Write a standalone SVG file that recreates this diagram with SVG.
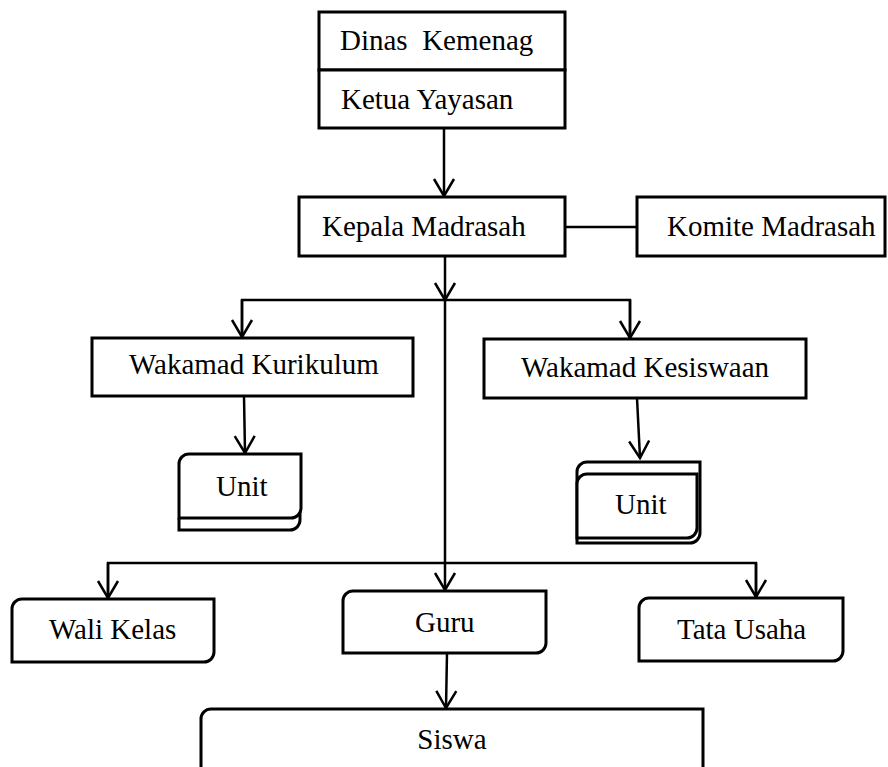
<svg xmlns="http://www.w3.org/2000/svg" width="888" height="767" viewBox="0 0 888 767">
<style>
.box{fill:#fff;stroke:#000;stroke-width:3}
.ln{fill:none;stroke:#000;stroke-width:2.5}
.t{font-family:"Liberation Serif","Times New Roman",serif;font-size:29px;fill:#000;white-space:pre}
.c{text-anchor:middle}
</style>
<defs>
<marker id="arr" markerUnits="userSpaceOnUse" viewBox="-20 -12 22 24" refX="0" refY="0" markerWidth="22" markerHeight="24" orient="auto">
<path d="M-17,-10 L0,0 L-17,10" fill="none" stroke="#000" stroke-width="2.5"/>
</marker>
</defs>
<rect width="888" height="767" fill="#fff"/>
<g id="connectors">
<line class="ln" x1="444" y1="128" x2="444" y2="196" marker-end="url(#arr)"/>
<line class="ln" x1="565" y1="227" x2="637" y2="227"/>
<line class="ln" x1="445" y1="256" x2="445" y2="300" marker-end="url(#arr)"/>
<line class="ln" x1="445" y1="300" x2="445" y2="590" marker-end="url(#arr)"/>
<polyline class="ln" points="242,337 242,300 630,300 630,338"/>
<line class="ln" x1="242" y1="300" x2="242" y2="337" marker-end="url(#arr)"/>
<line class="ln" x1="630" y1="300" x2="630" y2="338" marker-end="url(#arr)"/>
<line class="ln" x1="244" y1="396" x2="245" y2="453" marker-end="url(#arr)"/>
<line class="ln" x1="637" y1="398" x2="640" y2="458" marker-end="url(#arr)"/>
<polyline class="ln" points="108,598 108,563 756,563 756,597"/>
<line class="ln" x1="108" y1="563" x2="108" y2="598" marker-end="url(#arr)"/>
<line class="ln" x1="756" y1="563" x2="756" y2="597" marker-end="url(#arr)"/>
<line class="ln" x1="447" y1="653" x2="446" y2="708" marker-end="url(#arr)"/>
</g>
<g id="dinas-kemenag">
<rect class="box" x="319" y="12" width="246" height="58"/>
<text class="t" x="340" y="50">Dinas  Kemenag</text>
</g>
<g id="ketua-yayasan">
<rect class="box" x="319" y="70" width="246" height="58"/>
<text class="t" x="341" y="109">Ketua Yayasan</text>
</g>
<g id="kepala-madrasah">
<rect class="box" x="299" y="197" width="266" height="59"/>
<text class="t" x="322" y="236">Kepala Madrasah</text>
</g>
<g id="komite-madrasah">
<rect class="box" x="637" y="197" width="248" height="59"/>
<text class="t" x="667" y="236">Komite Madrasah</text>
</g>
<g id="wakamad-kurikulum">
<rect class="box" x="92" y="338" width="321" height="58"/>
<text class="t" x="129" y="374">Wakamad Kurikulum</text>
</g>
<g id="wakamad-kesiswaan">
<rect class="box" x="484" y="339" width="322" height="59"/>
<text class="t" x="521" y="377">Wakamad Kesiswaan</text>
</g>
<g id="unit-kurikulum">
<path class="box" d="M179,518 L179,530 L290,530 A10,10 0 0 0 300,520 L300,510"/>
<path class="box" d="M179,464 A10,10 0 0 1 189,454 L301,454 L301,508 A10,10 0 0 1 291,518 L179,518 Z"/>
<text class="t" x="216" y="496">Unit</text>
</g>
<g id="unit-kesiswaan">
<path class="box" d="M577,538 L577,472 A10,10 0 0 1 587,462 L700,462 L700,533 A10,10 0 0 1 690,543 L577,543 Z"/>
<path class="box" d="M577,484 A10,10 0 0 1 587,474 L697,474 L697,528 A10,10 0 0 1 687,538 L577,538 Z"/>
<text class="t" x="615" y="514">Unit</text>
</g>
<g id="wali-kelas">
<path class="box" d="M12,609 A10,10 0 0 1 22,599 L214,599 L214,652 A10,10 0 0 1 204,662 L12,662 Z"/>
<text class="t" x="49" y="639">Wali Kelas</text>
</g>
<g id="guru">
<path class="box" d="M343,601 A10,10 0 0 1 353,591 L546,591 L546,643 A10,10 0 0 1 536,653 L343,653 Z"/>
<text class="t" x="415" y="632">Guru</text>
</g>
<g id="tata-usaha">
<path class="box" d="M639,608 A10,10 0 0 1 649,598 L843,598 L843,651 A10,10 0 0 1 833,661 L639,661 Z"/>
<text class="t" x="677" y="639">Tata Usaha</text>
</g>
<g id="siswa">
<path class="box" d="M201,719 A10,10 0 0 1 211,709 L703,709 L703,790 L201,790 Z"/>
<text class="t c" x="452" y="749">Siswa</text>
</g>
</svg>
